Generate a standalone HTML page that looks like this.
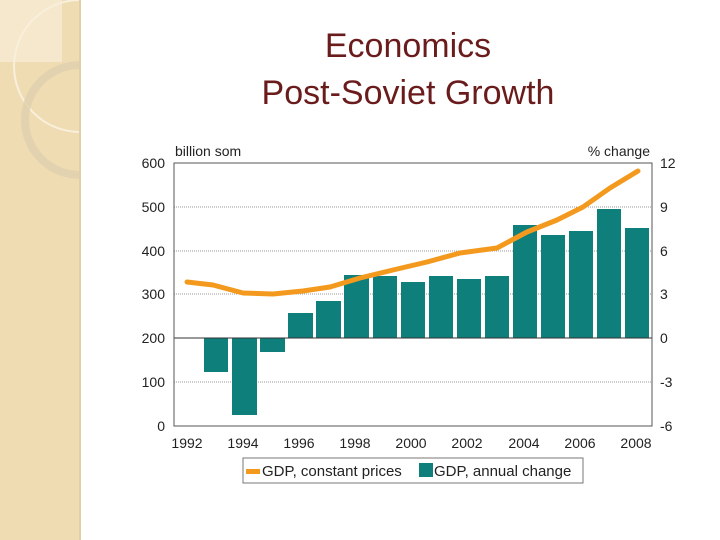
<!DOCTYPE html>
<html><head><meta charset="utf-8"><style>
body{margin:0;width:720px;height:540px;background:#fff;overflow:hidden;font-family:"Liberation Sans",sans-serif;position:relative}
</style></head><body>
<svg width="720" height="540" style="position:absolute;left:0;top:0" font-family="Liberation Sans, sans-serif">
<defs><clipPath id="c"><rect x="0" y="0" width="79" height="540"/></clipPath></defs>
<rect x="0" y="0" width="79" height="540" fill="#efdcb2"/>
<rect x="79" y="0" width="2" height="540" fill="#e2cfa6"/>
<g clip-path="url(#c)">
<rect x="0" y="0" width="62" height="62" fill="#f5e8cc"/>
<circle cx="80" cy="66" r="66" fill="none" stroke="#f8efdc" stroke-width="2"/>
<circle cx="80" cy="120" r="55" fill="none" stroke="#dfcfae" stroke-width="8" opacity="0.8"/>
</g>
<text x="408" y="57" text-anchor="middle" font-size="34" fill="#6a1c1c">Economics</text>
<text x="408" y="104" text-anchor="middle" font-size="34" fill="#6a1c1c">Post-Soviet Growth</text>
<g stroke="#999" stroke-dasharray="1,1" stroke-width="1">
<line x1="174" x2="652" y1="207" y2="207"/><line x1="174" x2="652" y1="251" y2="251"/>
<line x1="174" x2="652" y1="294" y2="294"/><line x1="174" x2="652" y1="382" y2="382"/>
</g>
<g fill="#0e7f7b">
<rect x="204" y="338" width="24" height="34"/><rect x="232" y="338" width="25" height="77"/>
<rect x="260" y="338" width="25" height="14"/><rect x="288" y="313" width="25" height="25"/>
<rect x="316" y="301" width="25" height="37"/><rect x="344" y="275" width="25" height="63"/>
<rect x="373" y="276" width="24" height="62"/><rect x="401" y="282" width="24" height="56"/>
<rect x="429" y="276" width="24" height="62"/><rect x="457" y="279" width="24" height="59"/>
<rect x="485" y="276" width="24" height="62"/><rect x="513" y="225" width="24" height="113"/>
<rect x="541" y="235" width="24" height="103"/><rect x="569" y="231" width="24" height="107"/>
<rect x="597" y="209" width="24" height="129"/><rect x="625" y="228" width="24" height="110"/>
</g>
<line x1="174" x2="652" y1="338" y2="338" stroke="#333" stroke-width="1"/>
<rect x="174" y="163" width="478" height="263" fill="none" stroke="#555" stroke-width="1"/>
<polyline fill="none" stroke="#f39a1e" stroke-width="5" stroke-linejoin="round" stroke-linecap="round"
points="187,282 213,285 243,293 273,294 303,291 330,287 360,278 393,270 427,262 460,253 497,248 527,232 557,220 583,207 610,188 638,171"/>
<g font-size="14" fill="#222">
<text x="175" y="156">billion som</text><text x="650" y="156" text-anchor="end">% change</text>
<g text-anchor="end"><text x="165" y="168">600</text><text x="165" y="212">500</text><text x="165" y="256">400</text><text x="165" y="299">300</text><text x="165" y="343">200</text><text x="165" y="387">100</text><text x="165" y="431">0</text></g>
<text x="660" y="168">12</text><text x="660" y="212">9</text><text x="660" y="256">6</text><text x="660" y="299">3</text><text x="660" y="343">0</text><text x="660" y="387">-3</text><text x="660" y="431">-6</text>
<g text-anchor="middle"><text x="187" y="448">1992</text><text x="243" y="448">1994</text><text x="299" y="448">1996</text><text x="355" y="448">1998</text><text x="411" y="448">2000</text><text x="467" y="448">2002</text><text x="524" y="448">2004</text><text x="580" y="448">2006</text><text x="636" y="448">2008</text></g>
</g>
<rect x="243" y="458" width="340" height="25" fill="#fff" stroke="#777"/>
<rect x="246" y="469" width="14" height="5" fill="#f39a1e"/>
<rect x="419" y="463" width="14" height="14" fill="#0e7f7b"/>
<text x="262" y="476" font-size="15" fill="#222">GDP, constant prices</text>
<text x="434" y="476" font-size="15" fill="#222">GDP, annual change</text>
</svg>
</body></html>
